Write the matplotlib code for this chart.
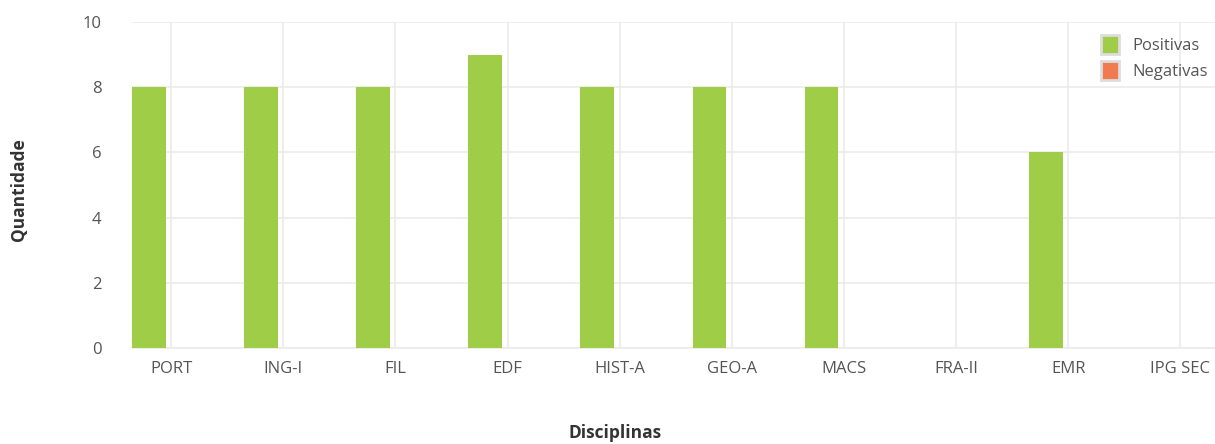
import numpy as np
import matplotlib.pyplot as plt
from matplotlib.patches import Patch

plt.rcParams['font.family'] = ['Open Sans', 'DejaVu Sans']

disciplinas = ["PORT", "ING-I", "FIL", "EDF", "HIST-A", "GEO-A", "MACS", "FRA-II", "EMR", "IPG SEC"]
positivas = [8, 8, 8, 9, 8, 8, 8, 0, 6, 0]
negativas = [0, 0, 0, 0, 0, 0, 0, 0, 0, 0]

cor_pos = '#9fcd48'
cor_neg = '#f07b50'
grid_cor = '#ebebeb'

fig = plt.figure(figsize=(12.15, 4.44), dpi=100)
ax = fig.add_axes([0.1086, 0.2162, 0.8914, 0.7343])

x = np.arange(len(disciplinas))
w = 0.30
ax.bar(x - 0.05 - w / 2, positivas, width=w, color=cor_pos, zorder=3)
ax.bar(x + 0.05 + w / 2, negativas, width=w, color=cor_neg, zorder=3)

ax.set_xlim(-0.35, len(disciplinas) - 1 + 0.31)
ax.set_ylim(0, 10)
ax.set_yticks([0, 2, 4, 6, 8, 10])
ax.set_xticks(x)
ax.set_xticklabels(disciplinas)

ax.grid(True, color=grid_cor, linewidth=1.2, zorder=0)
for s in ['top', 'right', 'left']:
    ax.spines[s].set_visible(False)
ax.spines['bottom'].set_color(grid_cor)
ax.spines['bottom'].set_linewidth(1.2)
ax.tick_params(axis='both', length=0, labelsize=12, labelcolor='#555555')
ax.tick_params(axis='x', pad=9)
ax.tick_params(axis='y', pad=22)

fig.text(0.016, 0.572, 'Quantidade', rotation=90, ha='center', va='center',
         fontsize=12.5, fontweight='bold', color='#333333')
fig.text(0.506, 0.025, 'Disciplinas', ha='center', va='center',
         fontsize=12.5, fontweight='bold', color='#333333')

handles = [Patch(facecolor=cor_pos, edgecolor='#dddddd', linewidth=2.0, label='Positivas'),
           Patch(facecolor=cor_neg, edgecolor='#dddddd', linewidth=2.0, label='Negativas')]
leg = ax.legend(handles=handles, loc='upper right', bbox_to_anchor=(1.003, 0.99), frameon=False,
                fontsize=12, handlelength=1.1, handleheight=1.4, handletextpad=0.8,
                labelspacing=0.38, borderaxespad=0.2)
for t in leg.get_texts():
    t.set_color('#555555')

fig.savefig('out.png', dpi=100)
